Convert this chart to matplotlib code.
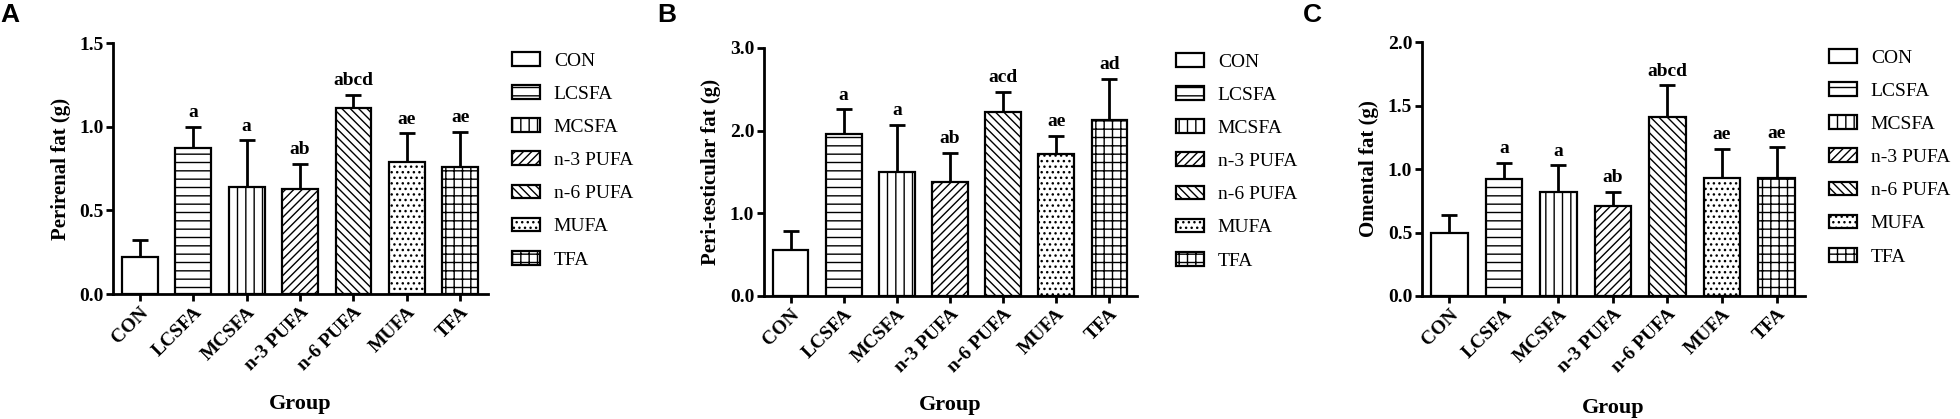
import numpy as np
import matplotlib
matplotlib.use("Agg")
import matplotlib.pyplot as plt
from matplotlib.patches import Patch
from matplotlib.ticker import FormatStrFormatter

plt.rcParams['font.family'] = 'Liberation Serif'
plt.rcParams['hatch.linewidth'] = 1.0

groups = ['CON', 'LCSFA', 'MCSFA', 'n-3 PUFA', 'n-6 PUFA', 'MUFA', 'TFA']
hatches = ['', '--', '||', '////', '\\\\\\\\', '...', '++']

# panel A - perirenal fat
a_mean = [0.22, 0.87, 0.64, 0.63, 1.11, 0.79, 0.76]
a_err = [0.10, 0.13, 0.28, 0.15, 0.08, 0.17, 0.21]
a_sig = ['', 'a', 'a', 'ab', 'abcd', 'ae', 'ae']

# panel B - peri-testicular fat
b_mean = [0.56, 1.96, 1.50, 1.38, 2.23, 1.72, 2.13]
b_err = [0.22, 0.30, 0.57, 0.35, 0.24, 0.22, 0.50]
b_sig = ['', 'a', 'a', 'ab', 'acd', 'ae', 'ad']

# panel C - omental fat
c_mean = [0.50, 0.92, 0.82, 0.71, 1.41, 0.93, 0.93]
c_err = [0.14, 0.13, 0.21, 0.11, 0.25, 0.23, 0.24]
c_sig = ['', 'a', 'a', 'ab', 'abcd', 'ae', 'ae']

panels = [
    ('A', 'Perirenal fat (g)', a_mean, a_err, a_sig, 1.5, 0.5, [0.0577, 0.2983, 0.1913, 0.599], 512, 0, 64),
    ('B', 'Peri-testicular fat (g)', b_mean, b_err, b_sig, 3.0, 1.0, [0.3898, 0.2936, 0.1903, 0.592], 1176, 657, 65),
    ('C', 'Omental fat (g)', c_mean, c_err, c_sig, 2.0, 0.5, [0.7255, 0.2936, 0.1954, 0.606], 1829, 1303, 61),
]

fig = plt.figure(figsize=(19.6, 4.19), dpi=100)
W, H = 1960.0, 419.0

for letter, ylab, mean, err, sig, ymax, step, rect, legx, labx, legy in panels:
    ax = fig.add_axes(rect)
    x = np.arange(len(groups))
    lower = np.zeros(len(err))
    for i in range(len(groups)):
        ax.bar(x[i], mean[i], width=0.67, color='white', edgecolor='black',
               linewidth=1.6, hatch=hatches[i], zorder=2)
    ax.errorbar(x, mean, yerr=[lower, err], fmt='none', ecolor='black',
                elinewidth=2.0, capsize=6, capthick=2.0, zorder=1)
    for i in range(len(groups)):
        if sig[i]:
            ax.annotate(sig[i], (x[i], mean[i] + err[i]), xytext=(0, 4),
                        textcoords='offset points', ha='center', va='bottom',
                        fontsize=14, fontweight='bold')
    ax.set_xlim(-0.5, 6.52)
    ax.set_ylim(0, ymax)
    ax.set_yticks(np.arange(0, ymax + step / 2, step))
    ax.yaxis.set_major_formatter(FormatStrFormatter('%.1f'))
    ax.set_xticks(x)
    ax.set_xticklabels(groups, rotation=45, ha='right', rotation_mode='anchor',
                       fontsize=14, fontweight='bold')
    for t in ax.get_yticklabels():
        t.set_fontsize(14)
        t.set_fontweight('bold')
    for s in ['top', 'right']:
        ax.spines[s].set_visible(False)
    for s in ['left', 'bottom']:
        ax.spines[s].set_linewidth(2.0)
    ax.tick_params(axis='both', width=2.0, length=5, pad=2)
    ax.set_ylabel(ylab, fontsize=15, fontweight='bold', labelpad=6)
    ax.set_xlabel('Group', fontsize=16, fontweight='bold')
    ax.xaxis.set_label_coords(0.5, -0.40)

    handles = [Patch(facecolor='white', edgecolor='black', linewidth=1.6, hatch=h) for h in hatches]
    fig.legend(handles, groups, loc='upper left',
               bbox_to_anchor=(legx / W, 1 - (legy - 12) / H),
               frameon=False, fontsize=14, handlelength=1.45, handleheight=0.7,
               handletextpad=0.7, labelspacing=0.8, borderpad=0, borderaxespad=0)

    fig.text(labx / W, 1 - 3 / H, letter, fontsize=19, fontweight='bold',
             family='Liberation Sans', ha='left', va='top')

fig.savefig('out.png', dpi=100)
